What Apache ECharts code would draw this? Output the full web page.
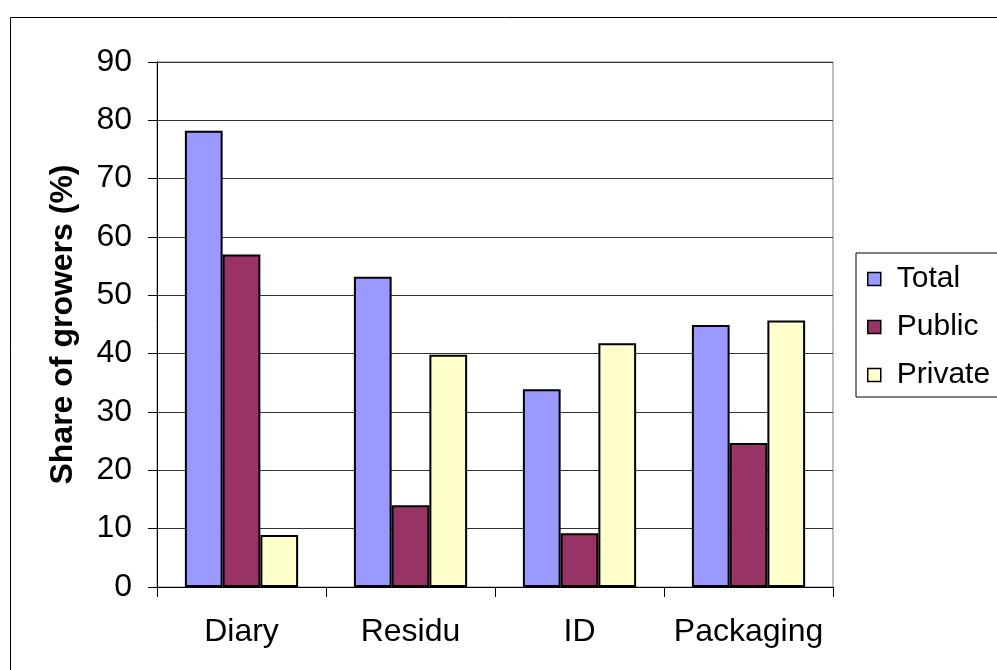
<!DOCTYPE html>
<html>
<head>
<meta charset="utf-8">
<script src="https://cdn.jsdelivr.net/npm/echarts@6/dist/echarts.min.js"></script>
<style>
  html, body { margin: 0; padding: 0; background: #fff; }
  #chart { width: 997px; height: 670px; }
</style>
</head>
<body>
<div id="chart"></div>
<script>
// Share of growers by practice, split by buyer type
const categories = ['Diary', 'Residu', 'ID', 'Packaging'];
const totalValues = [78.2, 53.2, 33.9, 44.9];
const publicValues = [57.0, 14.0, 9.2, 24.7];
const privateValues = [8.9, 39.8, 41.8, 45.7];
const yTicks = { min: 0, max: 90, interval: 10 };

const FONT = '"Liberation Sans", Arial, sans-serif';

const barSeries = (name, data, color) => ({
  name: name,
  type: 'bar',
  data: data,
  barGap: '0%',
  barCategoryGap: '33%',
  itemStyle: { color: color, borderColor: '#000', borderWidth: 2 }
});

const chart = echarts.init(document.getElementById('chart'), null, { renderer: 'canvas' });
chart.setOption({
  animation: false,
  backgroundColor: '#fff',
  textStyle: { fontFamily: FONT },
  graphic: [{
    type: 'rect',
    shape: { x: 10.5, y: 17.5, width: 1000, height: 700 },
    style: { fill: 'none', stroke: '#000', lineWidth: 1 },
    silent: true,
    z: -10
  }],
  grid: {
    left: 157, top: 62, width: 676, height: 525,
    show: true, borderColor: '#808080', borderWidth: 1, backgroundColor: 'transparent'
  },
  legend: {
    orient: 'vertical',
    left: 856, top: 253,
    padding: [11, 60, 7, 11],
    itemGap: 18,
    itemWidth: 13, itemHeight: 13,
    icon: 'rect',
    itemStyle: { borderColor: '#000', borderWidth: 1.5 },
    borderColor: '#000', borderWidth: 1,
    textStyle: { fontSize: 30, color: '#000', fontFamily: FONT, lineHeight: 30, padding: [0, 0, 0, 11] },
    data: ['Total', 'Public', 'Private']
  },
  xAxis: {
    type: 'category',
    data: categories,
    axisLine: { lineStyle: { color: '#000', width: 1 } },
    axisTick: { show: true, interval: 0, length: 10, lineStyle: { color: '#000' } },
    axisLabel: { interval: 0, hideOverlap: false, fontSize: 32, color: '#000', margin: 29, fontFamily: FONT },
    splitLine: { show: false }
  },
  yAxis: {
    type: 'value',
    min: yTicks.min, max: yTicks.max, interval: yTicks.interval,
    name: 'Share of growers (%)',
    nameLocation: 'middle',
    nameGap: 78,
    nameTextStyle: { fontSize: 32, fontWeight: 'bold', color: '#000', fontFamily: FONT },
    axisLine: { show: true, lineStyle: { color: '#000', width: 1 } },
    axisTick: { show: true, length: 9, lineStyle: { color: '#000' } },
    axisLabel: { fontSize: 32, color: '#000', margin: 25, fontFamily: FONT },
    splitLine: { show: true, lineStyle: { color: '#333', width: 1 } }
  },
  series: [
    barSeries('Total', totalValues, '#9999FF'),
    barSeries('Public', publicValues, '#993366'),
    barSeries('Private', privateValues, '#FFFFCC')
  ]
});
</script>
</body>
</html>
